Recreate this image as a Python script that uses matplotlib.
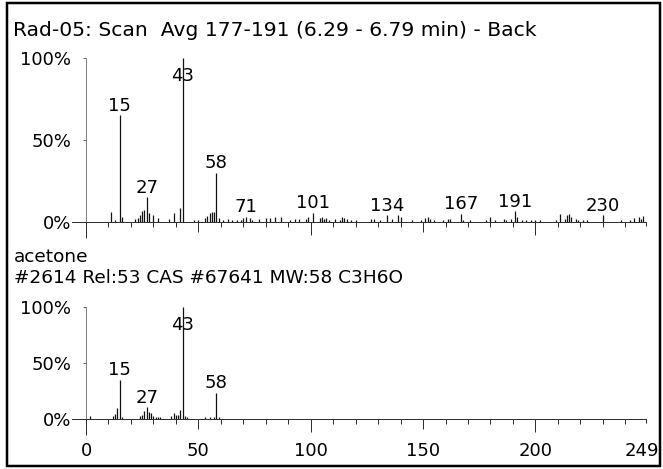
import matplotlib
matplotlib.use('Agg')
import matplotlib.pyplot as plt
from matplotlib.patches import Rectangle
from matplotlib.transforms import ScaledTranslation

plt.rcParams['font.family'] = ['DejaVu Sans']

# ---------------- data ----------------
title = "Rad-05: Scan  Avg 177-191 (6.29 - 6.79 min) - Back"
lib_name = "acetone"
lib_info = "#2614 Rel:53 CAS #67641 MW:58 C3H6O"

scan_mz = [11, 13, 15, 16, 22, 23, 24, 25, 26, 27, 28, 30, 32, 37, 39, 42, 43,
           48, 50, 53, 54, 55, 56, 57, 58, 59, 61, 63, 65, 67, 69, 70, 71, 73,
           74, 77, 80, 82, 84, 87, 91, 93, 95, 98, 99, 101, 104, 105, 106, 107,
           108, 111, 113, 114, 115, 116, 118, 120, 127, 128, 131, 134, 136, 139,
           140, 145, 149, 151, 152, 153, 155, 159, 161, 162, 167, 168, 171, 178,
           180, 182, 186, 187, 189, 191, 192, 194, 196, 198, 200, 202, 209, 211,
           213, 214, 215, 216, 218, 219, 221, 223, 230, 238, 242, 244, 246, 247,
           248]
scan_int = [6, 1.4, 65, 3, 2, 2.4, 4, 7, 7.5, 15, 5.5, 4, 2.4, 1.8, 5.5, 8.5, 100,
            1, 1.4, 2.4, 3.5, 5.5, 6, 6, 30, 2.4, 1.4, 1.8, 1.4, 1, 1.4, 2.4, 3, 2.4,
            1.4, 1.8, 2.4, 2.4, 3, 3, 1.4, 1.8, 1.8, 1.8, 3, 5.5, 2.4, 3, 2, 2.5,
            1.5, 2, 1, 3, 2.5, 2, 1, 1, 2, 2, 1, 4, 2, 4,
            3, 1, 1, 2.5, 3, 2, 1, 1, 2, 2, 5, 1.5, 1, 1.5,
            3, 1, 2, 1, 2, 6.5, 3, 1.2, 1, 1.5, 1, 1, 1.5, 5,
            2, 4, 5, 3, 2, 1, 1, 1, 4, 1.5, 1, 2.5, 3, 2,
            3.5]
scan_labels = [15, 27, 43, 58, 71, 101, 134, 167, 191, 230]

lib_mz = [2, 12, 13, 14, 15, 16, 24, 25, 26, 27, 28, 29, 30, 31, 32, 33,
          38, 39, 40, 41, 42, 43, 44, 45, 53, 55, 57, 58, 59]
lib_int = [2.4, 2, 4, 9.5, 34.5, 1.5, 2, 3, 7, 10, 6, 5, 2, 1, 1, 1,
           2, 5, 3, 3.5, 8, 100, 2.5, 1, 1, 1, 1, 23, 1.5]
lib_labels = [15, 27, 43, 58]

x_major = [0, 50, 100, 150, 200, 249]
x_minor = [10, 20, 30, 40, 60, 70, 80, 90, 110, 120, 130, 140, 160, 170,
           180, 190, 210, 220, 230, 240]
y_ticks = [0, 50, 100]
y_ticklabels = ['0%', '50%', '100%']

# ---------------- layout ----------------
W, H = 663, 469
fig = plt.figure(figsize=(W / 100, H / 100), dpi=100)
PX = 0.72  # points per pixel
FS = 13

LEFT, RIGHT = 86, 645.5


def make_axes(y0, y100, show_labels):
    ax = fig.add_axes([LEFT / W, (H - y0) / H, (RIGHT - LEFT) / W, (y0 - y100) / H])
    ax.set_xlim(0, 249)
    ax.set_ylim(0, 100)
    ax.patch.set_visible(False)
    for s in ['top', 'right', 'bottom']:
        ax.spines[s].set_visible(False)
    ax.spines['left'].set_color('#808080')
    ax.spines['left'].set_linewidth(1.0 * PX)
    ax.spines['left'].set_bounds(0, 100)
    ax.set_yticks(y_ticks)
    ax.set_yticklabels(y_ticklabels, fontsize=FS)
    ax.tick_params(axis='y', direction='out', length=3 * PX, width=1 * PX,
                   color='#606060', pad=12 * PX)
    ax.set_xticks(x_major)
    ax.set_xticks(x_minor, minor=True)
    ax.tick_params(axis='x', which='major', direction='out', length=10 * PX,
                   width=1 * PX, color='#303030', pad=13.5 * PX,
                   labelbottom=show_labels, labelsize=FS)
    ax.tick_params(axis='x', which='minor', direction='out', length=5 * PX,
                   width=1 * PX, color='#303030')
    for t, v in zip(ax.xaxis.get_major_ticks(), x_major):
        if v == 0:
            t.tick1line.set_markersize(16 * PX)
            t.tick1line.set_color('#808080')
        elif v in (100, 200):
            t.tick1line.set_markersize(13 * PX)
        elif v == 249:
            t.tick1line.set_markersize(4 * PX)
            t.label1.set_transform(t.label1.get_transform() +
                                   ScaledTranslation(-4 / 100, 0, fig.dpi_scale_trans))
    ax.axhline(0, xmin=-14 / (RIGHT - LEFT), xmax=1, color='#303030',
               lw=1 * PX, clip_on=False, zorder=3)
    return ax


def draw_spectrum(ax, mz, inten, labels):
    ax.vlines(mz, 0, inten, color='#111111', lw=0.9, zorder=2)
    lookup = dict(zip(mz, inten))
    for m in labels:
        h = lookup[m]
        if h > 85:
            ax.annotate(str(m), xy=(m, 100), xytext=(0, -9 * PX),
                        textcoords='offset points', ha='center', va='top',
                        fontsize=FS)
        else:
            ax.annotate(str(m), xy=(m, h), xytext=(0, 0.5),
                        textcoords='offset points', ha='center', va='bottom',
                        fontsize=FS)


ax1 = make_axes(222, 58, False)
draw_spectrum(ax1, scan_mz, scan_int, scan_labels)

ax2 = make_axes(418.5, 307, True)
draw_spectrum(ax2, lib_mz, lib_int, lib_labels)


def ftext(x, y, s, size):
    fig.text(x / W, 1 - y / H, s, fontsize=size, va='baseline', ha='left')


ftext(13, 36.5, title, 14.6)
ftext(14, 261.5, lib_name, 13.3)
ftext(14, 283.3, lib_info, 13.3)

# outer frame
fig.patches.append(Rectangle((6.5 / W, 3.5 / H), (660 - 6.5) / W, (466 - 3.5) / H,
                             transform=fig.transFigure, fill=False,
                             edgecolor='black', lw=2.5 * PX))

fig.savefig('out.png', dpi=100)
